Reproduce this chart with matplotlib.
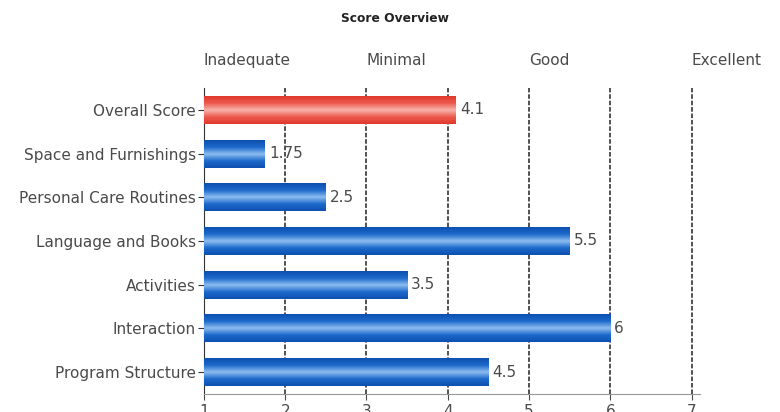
import numpy as np
import matplotlib
matplotlib.use("Agg")
import matplotlib.pyplot as plt
from matplotlib.colors import LinearSegmentedColormap

plt.rcParams['font.family'] = ['DejaVu Sans']

categories = ["Overall Score", "Space and Furnishings", "Personal Care Routines",
              "Language and Books", "Activities", "Interaction", "Program Structure"]
scores = [4.1, 1.75, 2.5, 5.5, 3.5, 6, 4.5]
value_labels = ["4.1", "1.75", "2.5", "5.5", "3.5", "6", "4.5"]
levels = ["Inadequate", "Minimal", "Good", "Excellent"]
level_pos = [1, 3, 5, 7]

blue_map = LinearSegmentedColormap.from_list(
    "blue", ["#0d50b0", "#1c6acb", "#8dbdf0", "#1c6acb", "#0d50b0"])
red_map = LinearSegmentedColormap.from_list(
    "red", ["#e0392c", "#ec5a4e", "#f8b4ac", "#ec5a4e", "#e0392c"])

FS = 11
TXT = "#4a4a4a"

fig = plt.figure(figsize=(7.8, 4.12), dpi=100)
ax = fig.add_axes([0.2615, 0.0437, 0.6355, 0.7427])

y = np.arange(len(categories))

# vertical reference lines
for xv in range(2, 8):
    ax.axvline(xv, color="#222222", lw=1.1, ls=(0, (3, 1.2)), zorder=1)

bars = ax.barh(y, [s - 1 for s in scores], left=1, height=0.64,
               color="none", edgecolor="none", zorder=2)

grad = np.linspace(0, 1, 64).reshape(-1, 1)
for i, b in enumerate(bars):
    cmap = red_map if i == 0 else blue_map
    x0, y0 = b.get_x(), b.get_y()
    w, h = b.get_width(), b.get_height()
    im = ax.imshow(grad, cmap=cmap, aspect="auto",
                   extent=[x0, x0 + w, y0 + h, y0], zorder=3)
    im.set_clip_path(b)
    ax.text(x0 + w + 0.05, y[i], value_labels[i], va="center", ha="left",
            fontsize=FS, color=TXT, zorder=4)

ax.set_xlim(1, 7.1)
ax.set_ylim(len(categories) - 0.5, -0.5)

ax.set_yticks(y)
ax.set_yticklabels(categories, fontsize=FS, color=TXT)
ax.set_xticks(range(1, 8))
ax.tick_params(axis="x", labelsize=FS, colors=TXT, length=4)
ax.tick_params(axis="y", length=4, color="#333333", pad=2)

for s in ["top", "right"]:
    ax.spines[s].set_visible(False)
ax.spines["left"].set_color("#333333")
ax.spines["bottom"].set_color("#999999")

for lv, xp in zip(levels, level_pos):
    ax.text(xp, 1.09, lv, transform=ax.get_xaxis_transform(), ha="left",
            va="center", fontsize=FS, color=TXT)

fig.text(0.506, 0.955, "Score Overview", ha="center", va="center",
         fontsize=8.8, fontweight="bold", color="#222222")

fig.savefig("out.png", dpi=100)
